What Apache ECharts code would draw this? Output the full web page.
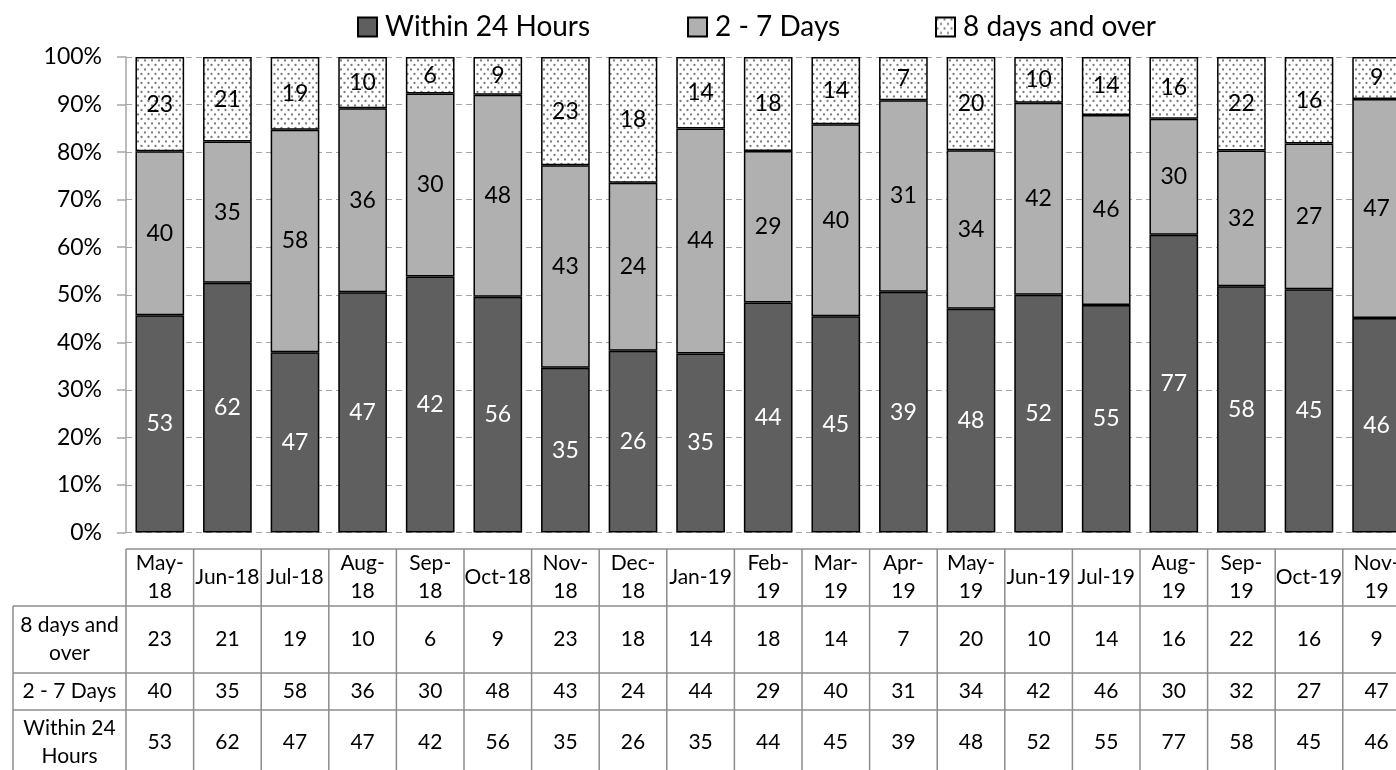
<!DOCTYPE html>
<html>
<head>
<meta charset="utf-8">
<script src="https://cdn.jsdelivr.net/npm/echarts@6/dist/echarts.min.js"></script>
<style>
html,body{margin:0;padding:0;background:#fff;}
#c{width:1396px;height:770px;}
</style>
</head>
<body>
<div id="c"></div>
<script>
const categories = ['May-18','Jun-18','Jul-18','Aug-18','Sep-18','Oct-18','Nov-18','Dec-18','Jan-19','Feb-19','Mar-19','Apr-19','May-19','Jun-19','Jul-19','Aug-19','Sep-19','Oct-19','Nov-19'];
const headerLabels = ['May-\n18','Jun-18','Jul-18','Aug-\n18','Sep-\n18','Oct-18','Nov-\n18','Dec-\n18','Jan-19','Feb-\n19','Mar-\n19','Apr-\n19','May-\n19','Jun-19','Jul-19','Aug-\n19','Sep-\n19','Oct-19','Nov-\n19'];
const within24 = [53,62,47,47,42,56,35,26,35,44,45,39,48,52,55,77,58,45,46];
const days2to7 = [40,35,58,36,30,48,43,24,44,29,40,31,34,42,46,30,32,27,47];
const days8plus = [23,21,19,10,6,9,23,18,14,18,14,7,20,10,14,16,22,16,9];
const yTicks = [0,10,20,30,40,50,60,70,80,90,100];

const totals = categories.map((c,i)=>within24[i]+days2to7[i]+days8plus[i]);
const pct = arr => arr.map((v,i)=>v/totals[i]*100);

// dotted pattern
const pc = document.createElement('canvas');
pc.width = 7; pc.height = 9;
const g = pc.getContext('2d');
g.fillStyle = '#ffffff'; g.fillRect(0,0,7,9);
g.fillStyle = '#7c7c7c';
g.beginPath(); g.arc(1.5,2,1.15,0,Math.PI*2); g.fill();
g.beginPath(); g.arc(5,6.5,1.15,0,Math.PI*2); g.fill();

const FONT = 'Lato';
const counts = {'Within 24 Hours':within24,'2 - 7 Days':days2to7,'8 days and over':days8plus};

function barSeries(name, arr, color, labelColor){
  return {
    name, type:'bar', stack:'all', data:pct(arr),
    barCategoryGap:'28%',
    itemStyle:{color, borderColor:'#000', borderWidth:1.5},
    label:{show:true, position:'inside', color:labelColor, fontFamily:FONT, fontSize:23,
      formatter:p=>String(counts[name][p.dataIndex])},
    emphasis:{disabled:true}
  };
}

const legendBase = {top:8, itemWidth:19, itemHeight:19, itemGap:0, icon:'rect',
  textStyle:{fontFamily:FONT, fontSize:28, color:'#000', padding:[0,0,0,3]}};

const option = {
  animation:false,
  legend:[
    Object.assign({}, legendBase, {left:352, data:['Within 24 Hours']}),
    Object.assign({}, legendBase, {left:682, data:['2 - 7 Days']}),
    Object.assign({}, legendBase, {left:930, data:['8 days and over']})
  ],
  grid:{left:126, top:57, width:19*67.6, height:475.5, containLabel:false, outerBoundsMode:'none'},
  xAxis:{type:'category', data:categories, axisLine:{show:false}, axisTick:{show:false}, axisLabel:{show:false}},
  yAxis:{type:'value', min:0, max:100, interval:10,
    axisLine:{show:true, lineStyle:{color:'#a6a6a6', width:1.5}},
    axisTick:{show:true, length:9, lineStyle:{color:'#a6a6a6', width:1.5}},
    axisLabel:{formatter:v=>yTicks.includes(v)?v+'%':'', fontFamily:FONT, fontSize:23, color:'#000', margin:24},
    splitLine:{show:true, lineStyle:{color:'#a6a6a6', type:[6,4], width:1.2}}
  },
  series:[
    barSeries('Within 24 Hours', within24, '#5f5f5f', '#ffffff'),
    barSeries('2 - 7 Days', days2to7, '#b0b0b0', '#000000'),
    barSeries('8 days and over', days8plus, {image:pc, repeat:'repeat'}, '#000000')
  ]
};

const chart = echarts.init(document.getElementById('c'), null, {renderer:'canvas'});
chart.setOption(option);

// data table built from axis positions
const c0 = chart.convertToPixel({xAxisIndex:0}, 0);
const c1 = chart.convertToPixel({xAxisIndex:0}, 1);
const bw = c1 - c0;
const left0 = c0 - bw/2;
const n = categories.length;
const rightEnd = left0 + n*bw;
const yTop = 549, yH = 606, yR1 = 673, yR2 = 710, yBot = 772, xLab = 13;
const LC = '#8c8c8c';
const els = [];
function line(x1,y1,x2,y2){els.push({type:'line', silent:true, shape:{x1,y1,x2,y2}, style:{stroke:LC, lineWidth:1.5}});}
function text(t,x,y){els.push({type:'text', silent:true, x:x, y:y, style:{text:t, textAlign:'center', textVerticalAlign:'middle', align:'center', verticalAlign:'middle', fontFamily:FONT, fontSize:21, lineHeight:28, fill:'#000'}});}
line(left0, yTop, rightEnd, yTop);
line(xLab, yH, rightEnd, yH);
line(xLab, yR1, rightEnd, yR1);
line(xLab, yR2, rightEnd, yR2);
line(xLab, yH, xLab, yBot);
for (let i=0;i<=n;i++){ const x = left0 + i*bw; line(x, yTop, x, yBot); }
const rows = [
  {label:'8 days and\nover', data:days8plus, y:(yH+yR1)/2},
  {label:'2 - 7 Days', data:days2to7, y:(yR1+yR2)/2},
  {label:'Within 24\nHours', data:within24, y:742}
];
rows.forEach(r=>{
  text(r.label, (xLab+left0)/2, r.y);
  r.data.forEach((v,i)=>text(String(v), left0 + (i+0.5)*bw, r.y));
});
headerLabels.forEach((h,i)=>text(h, left0 + (i+0.5)*bw, (yTop+yH)/2));
chart.setOption({graphic:{elements:els}});
</script>
</body>
</html>
